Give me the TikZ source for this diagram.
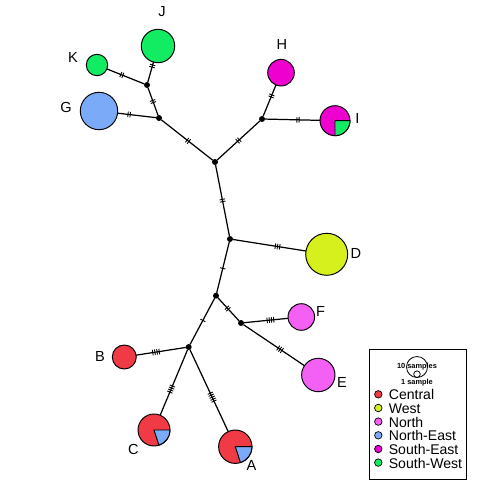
\documentclass[tikz,border=0pt]{standalone}
\usepackage{fontspec}
\setmainfont{Liberation Sans}
\usetikzlibrary{decorations.markings}
\definecolor{cCen}{RGB}{240,58,70}
\definecolor{cWest}{RGB}{214,240,30}
\definecolor{cNorth}{RGB}{244,96,244}
\definecolor{cNE}{RGB}{122,170,248}
\definecolor{cSE}{RGB}{238,0,206}
\definecolor{cSW}{RGB}{18,236,98}
\begin{document}
\begin{tikzpicture}[x=0.02cm,y=0.02cm,
 hap/.style={circle, draw, line width=0.55pt, inner sep=0pt, outer sep=0pt, minimum size={#1*0.04cm}},
 jn/.style={circle, fill=black, inner sep=0pt, outer sep=0pt, minimum size=0.12cm},
 edge/.style={line width=0.7pt},
 mut/.style 2 args={postaction={decorate, decoration={markings, mark=at position #1 with {\foreach \k in {1,...,#2}{\draw[line width=0.5pt] ({(\k-(#2+1)/2)*2.2},-2.8) -- ({(\k-(#2+1)/2)*2.2},2.8);}}}}},
 lab/.style={font=\fontsize{8.3}{9}\selectfont, inner sep=0pt},
 legtxt/.style={font=\fontsize{8}{9}\selectfont, anchor=west, inner sep=0pt},
 legdot/.style={circle, draw, line width=0.4pt, inner sep=0pt, minimum size=0.15cm},
 tiny/.style={font=\fontsize{4.2}{4.5}\selectfont\bfseries, inner sep=0pt}
]
\useasboundingbox (0,0) rectangle (500,-500);
% haplotype circles
\node[hap=16.7, fill=cSW] (J) at (158,-46) {};
\node[hap=10.7, fill=cSW] (K) at (97,-65) {};
\node[hap=18.7, fill=cNE] (G) at (99,-111) {};
\node[hap=13.3, fill=cSE] (H) at (281,-72.7) {};
\node[hap=15, fill=cSE] (I) at (335,-120.7) {};
\node[hap=21, fill=cWest] (D) at (326.7,-254.3) {};
\node[hap=13.3, fill=cNorth] (F) at (301.3,-317) {};
\node[hap=16.7, fill=cNorth] (E) at (318.3,-375) {};
\node[hap=12, fill=cCen] (B) at (124.3,-357) {};
\node[hap=16, fill=cCen] (C) at (154,-430) {};
\node[hap=16.7, fill=cCen] (A) at (235.3,-446.7) {};
% pie slices
\filldraw[fill=cSW, line width=0.55pt] (I.center) -- ++(15,0) arc[start angle=0, end angle=-90, radius=15] -- cycle;
\filldraw[fill=cNE, line width=0.55pt] (C.center) -- ++(16,0) arc[start angle=0, end angle=-72, radius=16] -- cycle;
\filldraw[fill=cNE, line width=0.55pt] (A.center) -- ++(16.7,0) arc[start angle=0, end angle=-72, radius=16.7] -- cycle;
% junctions
\node[jn] (jk) at (147,-85) {};
\node[jn] (gj) at (159,-118) {};
\node[jn] (top) at (215,-162) {};
\node[jn] (hi) at (262,-119) {};
\node[jn] (dj) at (230,-239) {};
\node[jn] (lj) at (216,-295.7) {};
\node[jn] (ef) at (241,-323) {};
\node[jn] (abc) at (188.7,-347) {};
% edges
\draw[edge, mut={0.8}{2}] (jk) -- (J);
\draw[edge, mut={0.6}{2}] (jk) -- (K);
\draw[edge, mut={0.5}{2}] (gj) -- (jk);
\draw[edge, mut={0.7}{2}] (gj) -- (G);
\draw[edge, mut={0.52}{2}] (gj) -- (top);
\draw[edge, mut={0.5}{2}] (top) -- (hi);
\draw[edge, mut={0.65}{2}] (hi) -- (H);
\draw[edge, mut={0.6}{2}] (hi) -- (I);
\draw[edge, mut={0.5}{2}] (top) -- (dj);
\draw[edge, mut={0.61}{3}] (dj) -- (D);
\draw[edge, mut={0.52}{1}] (dj) -- (lj);
\draw[edge, mut={0.46}{2}] (lj) -- (ef);
\draw[edge, mut={0.6}{4}] (ef) -- (F);
\draw[edge, mut={0.6}{3}] (ef) -- (E);
\draw[edge, mut={0.48}{1}] (lj) -- (abc);
\draw[edge, mut={0.6}{4}] (abc) -- (B);
\draw[edge, mut={0.6}{4}] (abc) -- (C);
\draw[edge, mut={0.58}{5}] (abc) -- (A);
% labels
\node[lab] (lJ) at (162,-12) {J};
\node[lab] (lK) at (73,-57) {K};
\node[lab] (lG) at (66,-107) {G};
\node[lab] (lH) at (282,-44) {H};
\node[lab] (lI) at (357.5,-118.5) {I};
\node[lab] (lD) at (356,-253.5) {D};
\node[lab] (lF) at (320.5,-311.5) {F};
\node[lab] (lE) at (342,-382.5) {E};
\node[lab] (lB) at (100,-356.5) {B};
\node[lab] (lC) at (133.5,-449.5) {C};
\node[lab] (lA) at (251.5,-465.5) {A};
% legend
\node[draw, line width=0.45pt, minimum width=1.94cm, minimum height=2.6cm, inner sep=0pt] (legbox) at (417.5,-414) {};
\node[hap=10.5, line width=0.45pt] (leg10) at (417,-367) {};
\node[hap=3.3, line width=0.45pt] (leg1) at (417,-374.2) {};
\node[tiny] (t10) at (417,-366.5) {10 samples};
\node[tiny] (t1) at (417,-382.5) {1 sample};
\node[legdot, fill=cCen] (d1) at (378.3,-394.3) {};
\node[legdot, fill=cWest] (d2) at (378.3,-408) {};
\node[legdot, fill=cNorth] (d3) at (378.3,-421.6) {};
\node[legdot, fill=cNE] (d4) at (378.3,-435.3) {};
\node[legdot, fill=cSE] (d5) at (378.3,-449) {};
\node[legdot, fill=cSW] (d6) at (378.3,-462.6) {};
\node[legtxt] (e1) at (388.5,-394.8) {Central};
\node[legtxt] (e2) at (388.5,-408.5) {West};
\node[legtxt] (e3) at (388.5,-422.1) {North};
\node[legtxt] (e4) at (388.5,-435.8) {North-East};
\node[legtxt] (e5) at (388.5,-449.5) {South-East};
\node[legtxt] (e6) at (388.5,-463.1) {South-West};
\end{tikzpicture}
\end{document}
